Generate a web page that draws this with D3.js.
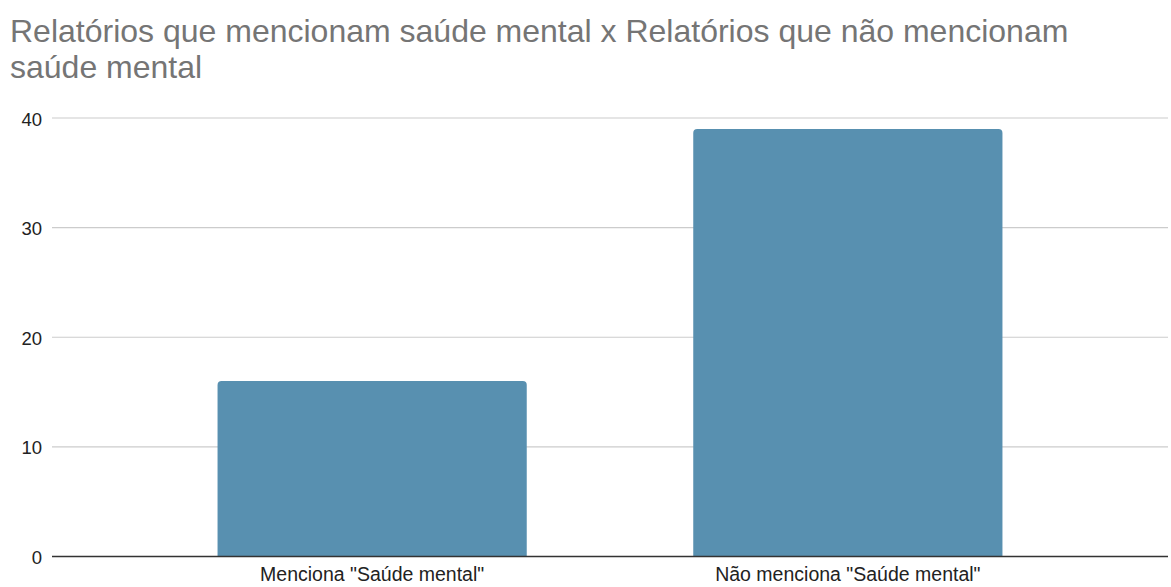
<!DOCTYPE html>
<html>
<head>
<meta charset="utf-8">
<script src="https://cdn.jsdelivr.net/npm/d3@7"></script>
<style>
  body { margin: 0; background: #fff; }
  svg { display: block; font-family: "Liberation Sans", Arial, sans-serif; }
</style>
</head>
<body>
<div id="chart"></div>
<script>
// DATA
const categories = ['Menciona "Saúde mental"', 'Não menciona "Saúde mental"'];
const values = [16, 39];
const yTicks = [0, 10, 20, 30, 40];
const titleLines = ["Relatórios que mencionam saúde mental x Relatórios que não mencionam", "saúde mental"];

const width = 1171, height = 587;
const margin = {top: 118, right: 3, bottom: 30, left: 52};

const svg = d3.select("#chart").append("svg")
    .attr("width", width)
    .attr("height", height);

// TITLE
svg.append("text")
    .attr("fill", "#757575")
    .style("font-size", "32px")
    .selectAll("tspan")
    .data(titleLines)
    .enter()
    .append("tspan")
    .attr("x", 10)
    .attr("y", (d, i) => 42 + i * 36)
    .text(d => d);

// SCALES
const x = d3.scaleBand()
    .domain(categories)
    .range([margin.left, width - margin.right])
    .paddingInner(0.35)
    .paddingOuter(0.348);

const y = d3.scaleLinear()
    .domain([0, 40])
    .range([height - margin.bottom - 0.5, margin.top]);

// GRIDLINES
svg.append("g")
    .selectAll("line")
    .data(yTicks.filter(d => d > 0))
    .enter()
    .append("line")
    .attr("x1", margin.left)
    .attr("x2", width - margin.right)
    .attr("y1", d => y(d))
    .attr("y2", d => y(d))
    .attr("stroke", "#cccccc")
    .attr("stroke-width", 1.2);

// Y TICK LABELS
svg.append("g")
    .selectAll("text")
    .data(yTicks)
    .enter()
    .append("text")
    .attr("x", 42)
    .attr("y", d => y(d) + 7.5)
    .attr("text-anchor", "end")
    .attr("fill", "#222")
    .style("font-size", "18.5px")
    .text(d => d);

// BARS (rounded top corners)
const r = 4;
svg.append("g")
    .selectAll("path")
    .data(values)
    .enter()
    .append("path")
    .attr("fill", "#5890b0")
    .attr("d", (d, i) => {
        const x0 = x(categories[i]), w = x.bandwidth();
        const y0 = y(d), yb = y(0);
        return `M${x0},${yb} V${y0 + r} Q${x0},${y0} ${x0 + r},${y0} H${x0 + w - r} Q${x0 + w},${y0} ${x0 + w},${y0 + r} V${yb} Z`;
    });

// BASELINE
svg.append("line")
    .attr("x1", margin.left)
    .attr("x2", width - margin.right)
    .attr("y1", y(0))
    .attr("y2", y(0))
    .attr("stroke", "#333")
    .attr("stroke-width", 1.3);

// X LABELS
svg.append("g")
    .selectAll("text")
    .data(categories)
    .enter()
    .append("text")
    .attr("x", d => x(d) + x.bandwidth() / 2)
    .attr("y", 581)
    .attr("text-anchor", "middle")
    .attr("fill", "#222")
    .style("font-size", "19.5px")
    .text(d => d);
</script>
</body>
</html>
